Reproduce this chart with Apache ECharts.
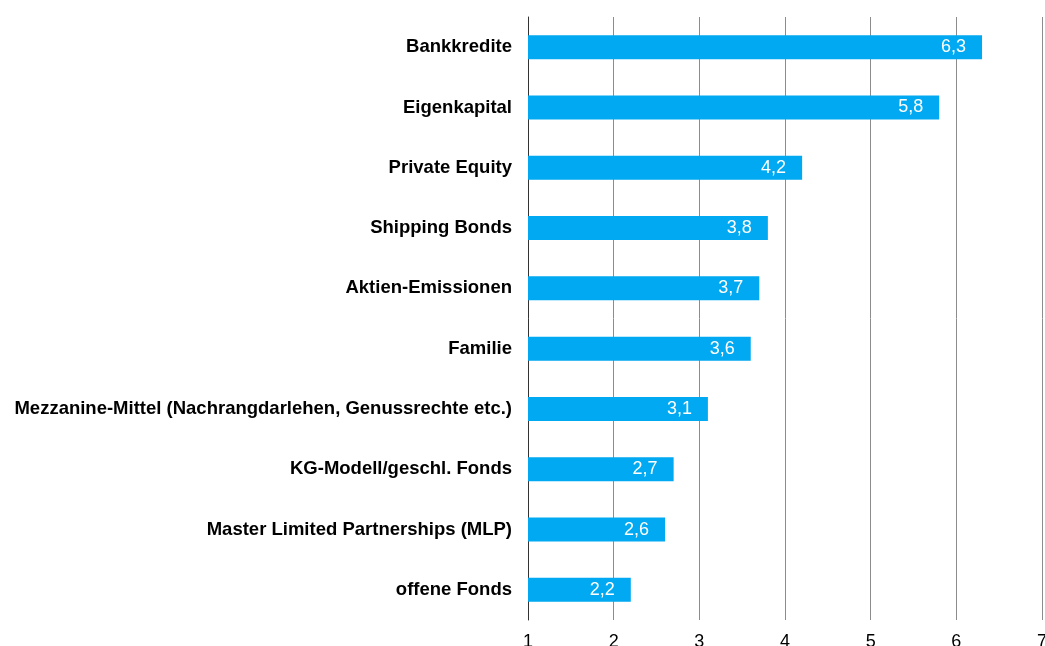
<!DOCTYPE html>
<html>
<head>
<meta charset="utf-8">
<script src="https://cdn.jsdelivr.net/npm/echarts@6/dist/echarts.min.js"></script>
<style>
  html, body { margin: 0; padding: 0; background: #fff; overflow: hidden; }
  #chart { width: 1045px; height: 646px; }
</style>
</head>
<body>
<div id="chart"></div>
<script>
// Financing sources, listed top to bottom
const categories = [
  'Bankkredite',
  'Eigenkapital',
  'Private Equity',
  'Shipping Bonds',
  'Aktien-Emissionen',
  'Familie',
  'Mezzanine-Mittel (Nachrangdarlehen, Genussrechte etc.)',
  'KG-Modell/geschl. Fonds',
  'Master Limited Partnerships (MLP)',
  'offene Fonds'
];
const values = [6.3, 5.8, 4.2, 3.8, 3.7, 3.6, 3.1, 2.7, 2.6, 2.2];
const axisMin = 1;
const axisMax = 7;

const FONT = '"Liberation Sans", Arial, sans-serif';

const chart = echarts.init(document.getElementById('chart'), null, { renderer: 'canvas' });

chart.setOption({
  animation: false,
  grid: {
    left: 528, right: 3, top: 17, bottom: 26,
    containLabel: false,
    outerBoundsMode: 'none'
  },
  xAxis: {
    type: 'value',
    min: axisMin,
    max: axisMax,
    interval: 1,
    axisLine: { show: false },
    axisTick: { show: false },
    splitLine: { show: true, lineStyle: { color: '#8c8c8c', width: 1 } },
    axisLabel: {
      margin: 13,
      color: '#000',
      fontFamily: FONT,
      fontSize: 18,
      verticalAlign: 'top',
      hideOverlap: false
    }
  },
  yAxis: {
    type: 'category',
    data: categories,
    inverse: true,
    axisLine: { show: true, lineStyle: { color: '#333', width: 1 } },
    axisTick: { show: false },
    axisLabel: {
      margin: 16,
      color: '#000',
      fontFamily: FONT,
      fontWeight: 'bold',
      fontSize: 18.5
    }
  },
  series: [{
    type: 'bar',
    data: values,
    barWidth: 24,
    itemStyle: { color: '#00a9f1' },
    label: {
      show: true,
      position: 'insideRight',
      distance: 16,
      color: '#fff',
      fontFamily: FONT,
      fontSize: 18,
      formatter: p => String(p.value).replace('.', ',')
    }
  }]
});
</script>
</body>
</html>
